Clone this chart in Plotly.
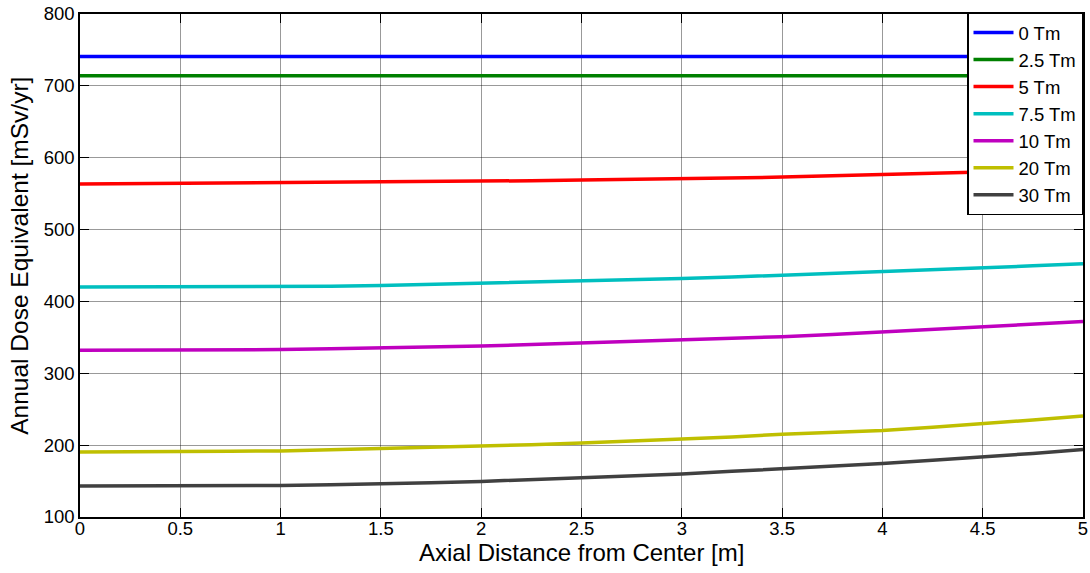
import plotly.graph_objects as go

x_m = [0, 0.25, 0.5, 0.75, 1, 1.25, 1.5, 1.75, 2, 2.25, 2.5, 2.75, 3, 3.25, 3.5, 3.75, 4, 4.25, 4.5, 4.75, 5]

dose_0tm = [741] * 21
dose_2_5tm = [714] * 21
dose_5tm = [563.5, 564, 564.5, 564.5, 564.5, 565, 565.5, 566, 567, 568, 569, 570, 570.5, 571.5, 573, 575, 577, 578.5, 580, 581.5, 583]
dose_7_5tm = [420, 420, 420, 420, 420.5, 421, 422, 423.5, 425, 426.5, 428, 430, 432, 434, 436.5, 438.5, 441, 444, 446.5, 449.5, 452.5]
dose_10tm = [332, 332, 332, 332.5, 333, 334, 335, 336.5, 338, 340, 342, 344, 346, 348.5, 351, 354, 357.5, 361, 364.5, 368, 372]
dose_20tm = [190.5, 190.5, 191, 191.5, 192, 193.5, 195, 196.5, 198.5, 200.5, 203, 205.5, 208, 211.5, 215, 217.5, 220.5, 225, 229.5, 235, 240.5]
dose_30tm = [143, 143, 143, 143.5, 144, 145, 146, 147.5, 149.5, 152, 154.5, 157, 160, 163.5, 167, 170.5, 174.5, 179, 183.5, 188.5, 194]

series = [
    ("0 Tm", dose_0tm, "#0000FF"),
    ("2.5 Tm", dose_2_5tm, "#008000"),
    ("5 Tm", dose_5tm, "#FF0000"),
    ("7.5 Tm", dose_7_5tm, "#00BFBF"),
    ("10 Tm", dose_10tm, "#BF00BF"),
    ("20 Tm", dose_20tm, "#BFBF00"),
    ("30 Tm", dose_30tm, "#404040"),
]

x_ticks = [0, 0.5, 1, 1.5, 2, 2.5, 3, 3.5, 4, 4.5, 5]
x_tick_labels = ["0", "0.5", "1", "1.5", "2", "2.5", "3", "3.5", "4", "4.5", "5"]
y_ticks = [100, 200, 300, 400, 500, 600, 700, 800]

x_title = "Axial Distance from Center [m]"
y_title = "Annual Dose Equivalent [mSv/yr]"

fig = go.Figure()
for name, vals, color in series:
    fig.add_trace(go.Scatter(x=x_m, y=vals, mode="lines", name=name,
                             line=dict(color=color, width=3.5)))

font_family = "Liberation Sans, Arial, sans-serif"
axis_common = dict(
    showline=True, linecolor="black", linewidth=1.5, mirror="ticks",
    ticks="inside", ticklen=9, tickcolor="black", tickwidth=1,
    showgrid=True, gridcolor="rgba(0,0,0,0.4)", gridwidth=1,
    zeroline=False, automargin=False,
    tickfont=dict(family=font_family, size=18.5, color="black"),
)

fig.update_layout(
    width=1090, height=573,
    margin=dict(l=80, r=7, t=14, b=56, autoexpand=False),
    paper_bgcolor="white", plot_bgcolor="white",
    font=dict(family=font_family, color="black"),
    showlegend=True,
    legend=dict(x=1.0, y=1.003, xanchor="right", yanchor="top",
                bgcolor="white", bordercolor="black", borderwidth=1.5,
                font=dict(family=font_family, size=18.5, color="black"),
                itemwidth=40, tracegroupgap=0),
    xaxis=dict(range=[0, 5], tickvals=x_ticks, ticktext=x_tick_labels,
               ticklabelstandoff=-6, **axis_common),
    yaxis=dict(range=[100, 800], tickvals=y_ticks, **axis_common),
    annotations=[
        dict(text=x_title, xref="paper", yref="paper", x=0.5, y=-0.071,
             xanchor="center", yanchor="middle", showarrow=False,
             font=dict(family=font_family, size=24, color="black")),
        dict(text=y_title, xref="paper", yref="paper", x=-0.06, y=0.519,
             xanchor="center", yanchor="middle", showarrow=False, textangle=-90,
             font=dict(family=font_family, size=24.5, color="black")),
    ],
)

fig.write_html("out.html")
